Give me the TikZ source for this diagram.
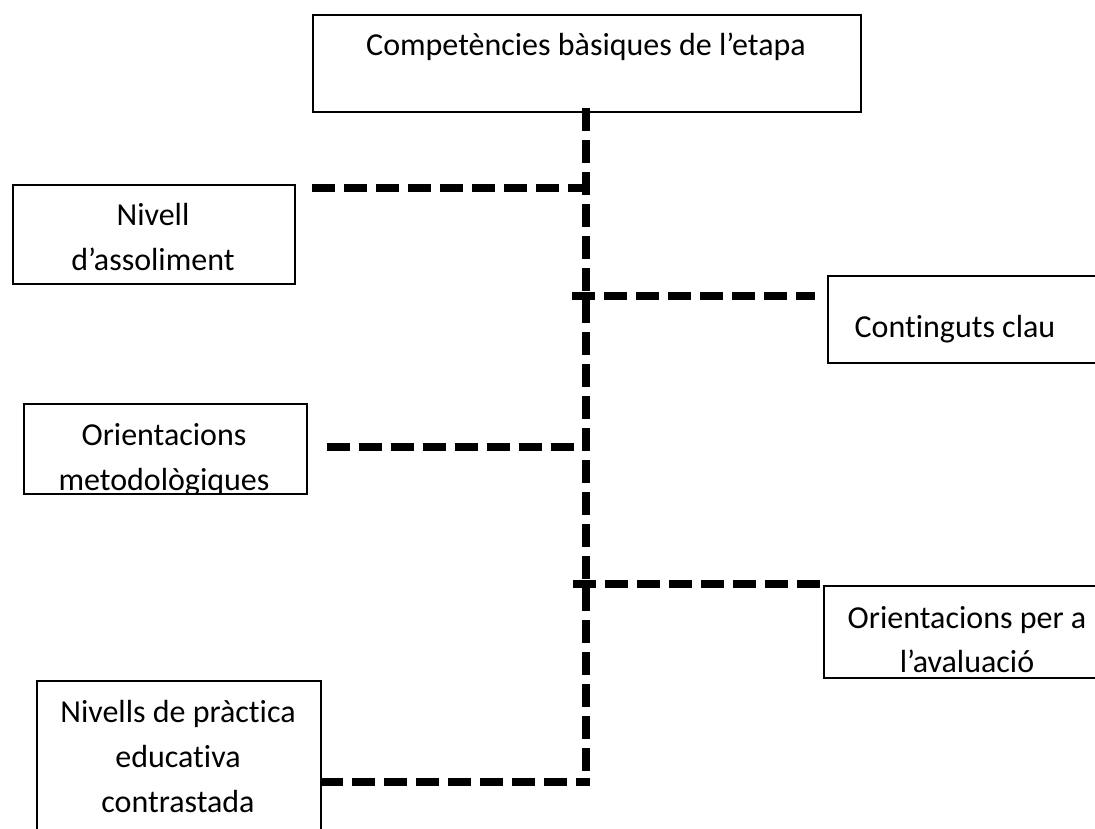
\documentclass[tikz,border=0pt]{standalone}
\usepackage{fontspec}
\setmainfont{Carlito}[Ligatures={NoCommon}]
\begin{document}
\begin{tikzpicture}[x=1pt,y=-1pt,
  box/.style={draw, line width=1.5pt, inner sep=0pt, anchor=north west},
  conn/.style={line width=8pt, dash pattern=on 23pt off 9pt},
  lbl/.style={font=\fontsize{32}{45}\selectfont, inner sep=0pt, anchor=base}]
\useasboundingbox (0,0) rectangle (1095,828);
\clip (0,0) rectangle (1095,828);
% boxes
\node[box, minimum width=548pt, minimum height=97pt] (top) at (312,14) {};
\node[box, minimum width=282pt, minimum height=99pt] (nivell) at (12,184) {};
\node[box, minimum width=300pt, minimum height=87pt] (cont) at (827,275) {};
\node[box, minimum width=283pt, minimum height=90pt] (ormet) at (23,403) {};
\node[box, minimum width=300pt, minimum height=92pt] (oraval) at (823,585) {};
\node[box, minimum width=284pt, minimum height=200pt] (npr) at (36,680) {};
% labels
\node[lbl] (tTop) at (586,55) {Competències bàsiques de l’etapa};
\node[lbl] (tNivellA) at (153,225) {Nivell};
\node[lbl] (tNivellB) at (153,270) {d’assoliment};
\node[lbl] (tCont) at (955,337) {Continguts clau};
\begin{scope}
\clip (23,403) rectangle (306,493);
\node[lbl] (tOrmetA) at (164,445) {Orientacions};
\node[lbl] (tOrmetB) at (164,490) {metodològiques};
\end{scope}
\node[lbl] (tOravalA) at (967,628) {Orientacions per a};
\node[lbl] (tOravalB) at (967,672) {l’avaluació};
\node[lbl] (tNprA) at (178,722) {Nivells de pràctica};
\node[lbl] (tNprB) at (178,767) {educativa};
\node[lbl] (tNprC) at (178,812) {contrastada};
% connector coordinates
\coordinate (sTop) at (586,108);
\coordinate (sBot) at (586,786);
\coordinate (a1) at (312,188); \coordinate (b1) at (586,188);
\coordinate (a2) at (572,296); \coordinate (b2) at (815,296);
\coordinate (a3) at (327,447); \coordinate (b3) at (586,447);
\coordinate (a4) at (573,584); \coordinate (b4) at (828,584);
\coordinate (a5) at (320,782); \coordinate (b5) at (590,782);
% connectors
\draw[conn] (sTop) -- (sBot);
\draw[conn] (a1) -- (b1);
\draw[conn] (a2) -- (b2);
\draw[conn] (a3) -- (b3);
\draw[conn] (a4) -- (b4);
\draw[conn] (a5) -- (b5);
\end{tikzpicture}
\end{document}
